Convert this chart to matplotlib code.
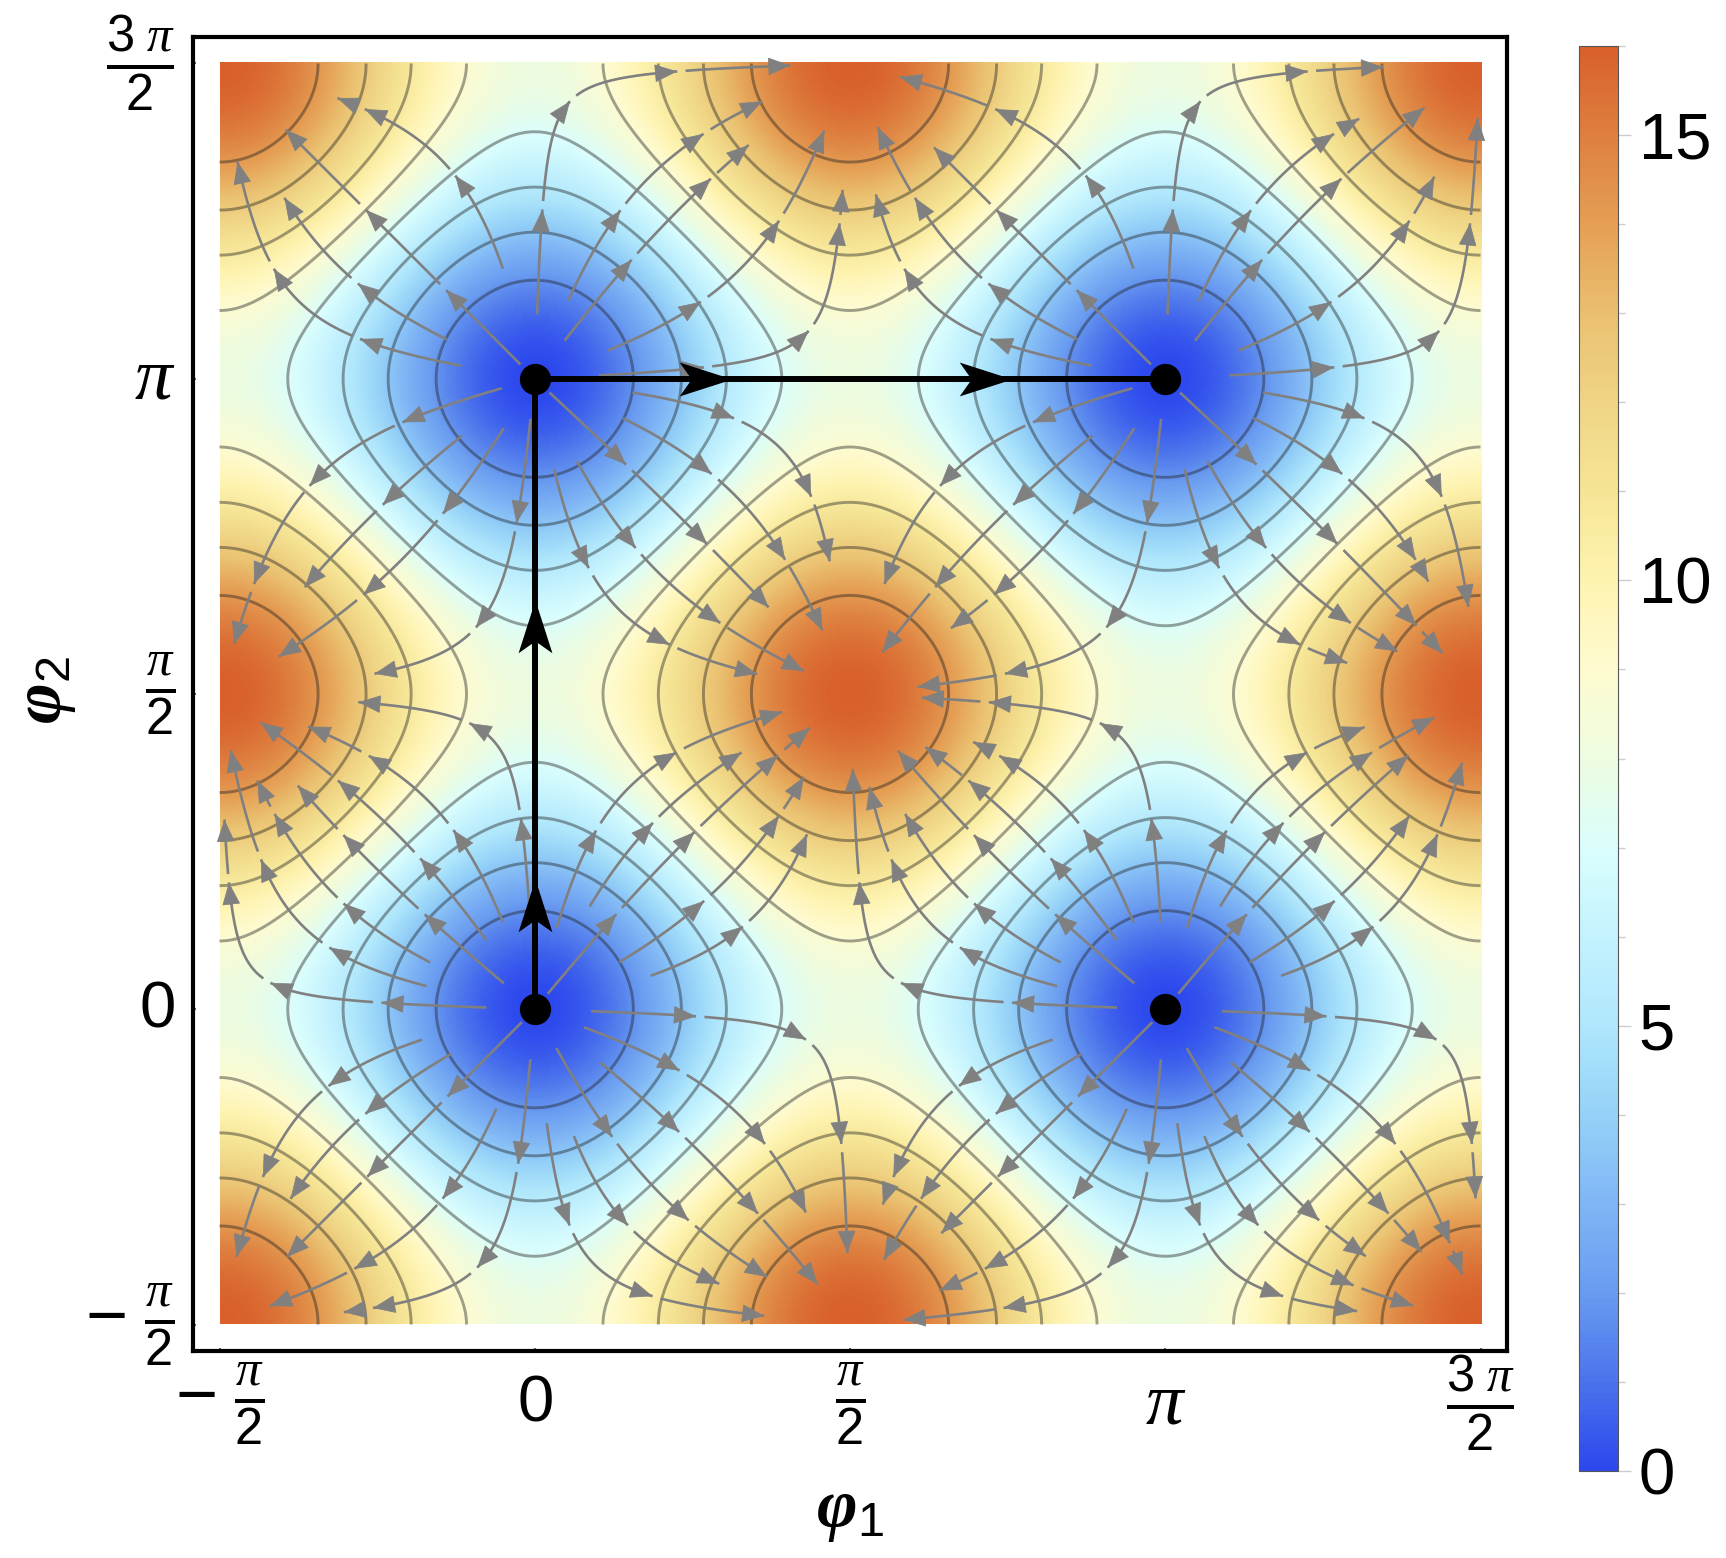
import numpy as np
import matplotlib
matplotlib.use("Agg")
import matplotlib.pyplot as plt
from matplotlib.colors import LinearSegmentedColormap
from matplotlib.patches import FancyArrowPatch
from matplotlib.path import Path

plt.rcParams['font.family'] = ['Liberation Sans', 'DejaVu Sans']
plt.rcParams['mathtext.fontset'] = 'custom'
plt.rcParams['mathtext.rm'] = 'Liberation Sans'
plt.rcParams['mathtext.it'] = 'Liberation Serif:italic'
plt.rcParams['mathtext.bf'] = 'Liberation Serif:italic:bold'

# potential, steps of pi/6, phi2 rows from -pi/2 up
potential = np.array([
    [16, 14, 10, 8, 10, 14, 16, 14, 10, 8, 10, 14, 16],
    [14, 12, 8, 6, 8, 12, 14, 12, 8, 6, 8, 12, 14],
    [10, 8, 4, 2, 4, 8, 10, 8, 4, 2, 4, 8, 10],
    [8, 6, 2, 0, 2, 6, 8, 6, 2, 0, 2, 6, 8],
    [10, 8, 4, 2, 4, 8, 10, 8, 4, 2, 4, 8, 10],
    [14, 12, 8, 6, 8, 12, 14, 12, 8, 6, 8, 12, 14],
    [16, 14, 10, 8, 10, 14, 16, 14, 10, 8, 10, 14, 16],
    [14, 12, 8, 6, 8, 12, 14, 12, 8, 6, 8, 12, 14],
    [10, 8, 4, 2, 4, 8, 10, 8, 4, 2, 4, 8, 10],
    [8, 6, 2, 0, 2, 6, 8, 6, 2, 0, 2, 6, 8],
    [10, 8, 4, 2, 4, 8, 10, 8, 4, 2, 4, 8, 10],
    [14, 12, 8, 6, 8, 12, 14, 12, 8, 6, 8, 12, 14],
    [16, 14, 10, 8, 10, 14, 16, 14, 10, 8, 10, 14, 16],
], dtype=float)

contour_levels = [1.78, 3.56, 5.33, 7.11, 8.89, 10.67, 12.44, 14.22]

phi_ticks = [-np.pi / 2, 0, np.pi / 2, np.pi, 3 * np.pi / 2]
tick_labels = [r'$-\ \frac{\pi}{2}$', r'$\mathrm{0}$', r'$\frac{\pi}{2}$', r'$\pi$', r'$\frac{3\ \pi}{2}$']
tick_sizes = [52, 47, 52, 54, 52]

minima_phi1 = [0, 0, np.pi, np.pi]
minima_phi2 = [0, np.pi, 0, np.pi]
path_phi1 = [0, 0, np.pi]
path_phi2 = [0, np.pi, np.pi]
up_arrow_phi2 = [0.65, 2.04]
right_arrow_phi1 = [0.985, 2.38]

# where the streams start around a minimum: direction (deg) and distance (rad)
rays_low_deg = [140, 125, 110, 93, 75, 62, 50, 29, 16, -2, -20, -39, -61, -73, -84, -95, -111, -135, -152, -165, 178, 168, 156]
rays_low_r = [0.18, 0.40, 0.44, 0.41, 0.40, 0.56, 0.08, 0.46, 0.58, 0.26, 0.24, 0.40, 0.20, 0.64, 0.55, 0.23, 0.51, 0.07, 0.45, 0.56, 0.22, 0.53, 0.55]
rays_high_deg = [-8, -24, -43, -63, -78, -96, -122, -142, -164, 170, 156, 135, 106, 88, 67, 52, 21, 3]
rays_high_r = [0.47, 0.46, 0.08, 0.44, 0.44, 0.18, 0.27, 0.44, 0.15, 0.35, 0.46, 0.08, 0.55, 0.30, 0.40, 0.22, 0.37, 0.30]

# streams end at different heights near a maximum, not all on one ring
end_levels = [13.4, 15.5, 14.4, 12.9, 15.1]

cbar_ticks = [0, 5, 10, 15]
cbar_minor = [1, 2, 3, 4, 6, 7, 8, 9, 11, 12, 13, 14, 16]

# one colour per unit, 0 to 16
cmap_colors = ['#2C48EE', '#4C74EC', '#6A9CF0', '#80B6F5', '#96D2F8', '#B0E7FC', '#C4F2FE',
               '#DAFEFD', '#EDFCE0', '#FEFBD0', '#FEF3B0', '#F6E596', '#EFD585', '#EAC070',
               '#E5A055', '#DE8040', '#D9602B']


def upsample(table, n):
    # periodic table, pad its spectrum to get a smooth field
    core = table[:-1, :-1]
    spec = np.fft.fftshift(np.fft.fft2(core))
    m = core.shape[0]
    pad = (n - m) // 2
    spec = np.pad(spec, pad)
    fine = np.fft.ifft2(np.fft.ifftshift(spec)).real * (n / m) ** 2
    fine = np.hstack([fine, fine[:, :1]])
    return np.vstack([fine, fine[:1, :]])


W, H = 1726, 1558
fig = plt.figure(figsize=(W / 100, H / 100), dpi=100)
L, R, T, B = 193, 1507, 37, 1351
ax = fig.add_axes([L / W, 1 - B / H, (R - L) / W, (B - T) / H])

field = upsample(potential, 480)
phi = np.linspace(-np.pi / 2, 3 * np.pi / 2, field.shape[0])
step = phi[1] - phi[0]
cmap = LinearSegmentedColormap.from_list('temperature', cmap_colors)

ax.imshow(field, origin='lower', extent=[phi[0], phi[-1], phi[0], phi[-1]], cmap=cmap,
          vmin=0, vmax=16, interpolation='bilinear', aspect='auto', zorder=1)
ax.contour(phi, phi, field, levels=contour_levels, colors='#202020', alpha=0.42,
           linewidths=2.1, zorder=2)

dv, du = np.gradient(field, phi, phi)
speed = np.hypot(du, dv)

seeds = []
for m1, m2 in zip(minima_phi1, minima_phi2):
    if m2 == 0:
        deg, rad = rays_low_deg, rays_low_r
    else:
        deg, rad = rays_high_deg, rays_high_r
    for d, r in zip(deg, rad):
        seeds.append((m1 + r * np.cos(np.radians(d)), m2 + r * np.sin(np.radians(d))))
seeds = np.array(seeds)

# high density only makes the integrator take small steps here
sp = ax.streamplot(phi, phi, du, dv, start_points=seeds, density=10, color='#808080', linewidth=1.9,
                   arrowstyle='-', integration_direction='forward', broken_streamlines=False,
                   minlength=0.01, maxlength=0.7, zorder=3)
for p in list(ax.patches):
    p.remove()

# cut every stream in short pieces, each one ending in a head
piece_len = 0.53
gap_len = 0.035
pieces = []
for n, line in enumerate(sp.lines.get_segments()):
    i = np.clip(np.rint((line[:, 0] - phi[0]) / step).astype(int), 0, field.shape[1] - 1)
    j = np.clip(np.rint((line[:, 1] - phi[0]) / step).astype(int), 0, field.shape[0] - 1)
    arc = np.r_[0, np.cumsum(np.hypot(*np.diff(line, axis=0).T))]
    stop = (field[j, i] > end_levels[n % len(end_levels)]) | ((speed[j, i] < 1.3) & (arc > 0.25))
    if stop.any():
        keep = np.argmax(stop)
        line, arc = line[:keep], arc[:keep]
    s = 0.0
    while len(arc) and s < arc[-1] - 0.07:
        part = line[(arc >= s) & (arc <= s + piece_len)]
        if len(part) > 3:
            pieces.append(part)
        s += piece_len + gap_len
sp.lines.set_segments(pieces)

for part in pieces:
    back = max(len(part) - 4, 0)
    ax.add_patch(FancyArrowPatch(part[back], part[-1], arrowstyle='-|>,head_length=15,head_width=6',
                                 mutation_scale=1, shrinkA=0, shrinkB=0, color='#808080', lw=0.5,
                                 zorder=4))

ax.plot(path_phi1, path_phi2, color='black', lw=4.3, solid_joinstyle='miter', zorder=5)

# swept back head with its tip at the marker origin
head_up = Path([(0, 0), (-17, -53), (0, -41), (17, -53), (0, 0)],
               [Path.MOVETO, Path.LINETO, Path.LINETO, Path.LINETO, Path.CLOSEPOLY])
head_right = Path([(0, 0), (-53, 17), (-41, 0), (-53, -17), (0, 0)],
                  [Path.MOVETO, Path.LINETO, Path.LINETO, Path.LINETO, Path.CLOSEPOLY])
ax.plot([0] * len(up_arrow_phi2), up_arrow_phi2, ls='none', marker=head_up, ms=76,
        color='black', mew=0, zorder=6)
ax.plot(right_arrow_phi1, [np.pi] * len(right_arrow_phi1), ls='none', marker=head_right, ms=76,
        color='black', mew=0, zorder=6)
ax.plot(minima_phi1, minima_phi2, ls='none', marker='o', ms=22.5, color='black', mew=0, zorder=7)

pad = 26.5 / 1261 * 2 * np.pi
ax.set_xlim(phi[0] - pad, phi[-1] + pad)
ax.set_ylim(phi[0] - pad, phi[-1] + pad)

ax.set_xticks(phi_ticks, tick_labels)
ax.set_yticks(phi_ticks, tick_labels)
ax.tick_params(axis='both', direction='in', length=2.5, width=1.5, color='#666666')
ax.tick_params(axis='x', pad=38)
ax.tick_params(axis='y', pad=13)
for lab, size in zip(ax.get_xticklabels(), tick_sizes):
    lab.set_verticalalignment('center')
    lab.set_fontsize(size)
for lab, size in zip(ax.get_yticklabels(), tick_sizes):
    lab.set_verticalalignment('center')
    lab.set_fontsize(size)
for s in ax.spines.values():
    s.set_linewidth(3.0)

fig.text(850 / W, 1 - 1512 / H, r'$\mathbf{\varphi}_{\mathrm{1}}$', fontsize=50, ha='center', va='center')
fig.text(46 / W, 1 - 690 / H, r'$\mathbf{\varphi}_{\mathrm{2}}$', fontsize=50, ha='center', va='center', rotation=90)

cax = fig.add_axes([1579 / W, 1 - 1471 / H, 39 / W, 1425 / H])
sm = plt.cm.ScalarMappable(cmap=cmap, norm=plt.Normalize(0, 16))
cb = fig.colorbar(sm, cax=cax, ticks=cbar_ticks)
cb.ax.set_yticks(cbar_minor, minor=True)
cb.ax.tick_params(which='major', length=9, width=1, color='#cccccc', labelsize=47, pad=6)
cb.ax.tick_params(which='minor', length=5, width=1, color='#cccccc')
cb.outline.set_linewidth(0.8)
cb.outline.set_edgecolor('#555555')

fig.savefig('out.png', dpi=100)
